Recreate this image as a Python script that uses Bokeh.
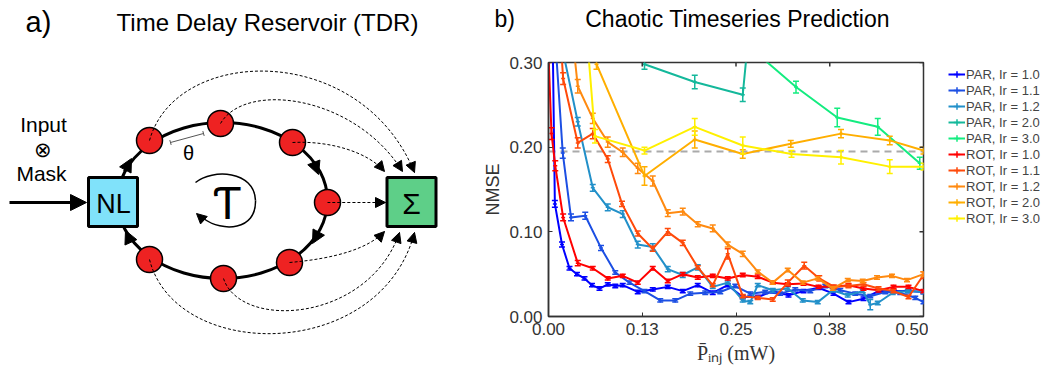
import math
from bokeh.plotting import figure
from bokeh.layouts import row, column
from bokeh.models import (Range1d, Label, Arrow, NormalHead, TeeHead, Span,
                          Legend, LegendItem, FixedTicker, ColumnDataSource)
from bokeh.embed import file_html
from bokeh.resources import INLINE

SANS = "Liberation Sans"
SERIF = "Liberation Serif"
NBSP = "\u00a0"

# ---------------- panel b data ----------------
SERIES_NAMES = ["PAR, Ir = 1.0", "PAR, Ir = 1.1", "PAR, Ir = 1.2", "PAR, Ir = 2.0", "PAR, Ir = 3.0",
                "ROT, Ir = 1.0", "ROT, Ir = 1.1", "ROT, Ir = 1.2", "ROT, Ir = 2.0", "ROT, Ir = 3.0"]
SERIES_COLORS = ["#0000ff", "#1c4fe3", "#2290c9", "#14b89b", "#14ec80",
                 "#ff0000", "#ff4a0a", "#ff8a10", "#ffae00", "#fff000"]

PAR_10_X = [0.000, 0.0085, 0.018, 0.028, 0.038, 0.048, 0.058, 0.068, 0.079, 0.089, 0.099, 0.119, 0.139, 0.159,
            0.179, 0.199, 0.219, 0.239, 0.259, 0.279, 0.299, 0.320, 0.340, 0.360, 0.380, 0.400, 0.420, 0.440,
            0.460, 0.480, 0.500]
PAR_10_Y = [0.700, 0.133, 0.085, 0.057, 0.050, 0.045, 0.037, 0.033, 0.038, 0.036, 0.037, 0.029, 0.032, 0.035,
            0.030, 0.037, 0.028, 0.037, 0.023, 0.023, 0.030, 0.025, 0.030, 0.034, 0.027, 0.017, 0.021, 0.030,
            0.030, 0.030, 0.029]
PAR_10_E = [0.010, 0.004, 0.003, 0.002, 0.002, 0.002, 0.002, 0.002, 0.002, 0.002, 0.002, 0.002, 0.002, 0.002,
            0.002, 0.002, 0.002, 0.002, 0.002, 0.002, 0.002, 0.002, 0.002, 0.002, 0.002, 0.002, 0.002, 0.002,
            0.002, 0.002, 0.002]

PAR_11_X = [0.000, 0.019, 0.030, 0.049, 0.070, 0.089, 0.108, 0.128, 0.149, 0.169, 0.189, 0.209, 0.229, 0.249,
            0.269, 0.289, 0.309, 0.329, 0.349, 0.369, 0.389, 0.409, 0.429, 0.449, 0.469, 0.489, 0.500]
PAR_11_Y = [0.450, 0.193, 0.117, 0.119, 0.081, 0.052, 0.040, 0.030, 0.019, 0.019, 0.027, 0.028, 0.029, 0.036,
            0.027, 0.029, 0.027, 0.032, 0.030, 0.036, 0.031, 0.027, 0.024, 0.029, 0.028, 0.022, 0.017]
PAR_11_E = [0.010, 0.006, 0.004, 0.004, 0.003, 0.002, 0.002, 0.002, 0.002, 0.002, 0.002, 0.002, 0.002, 0.002,
            0.002, 0.002, 0.002, 0.002, 0.002, 0.002, 0.002, 0.002, 0.002, 0.002, 0.002, 0.002, 0.002]

PAR_12_X = [0.000, 0.020, 0.039, 0.059, 0.079, 0.099, 0.119, 0.139, 0.159, 0.179, 0.199, 0.219, 0.239, 0.259,
            0.269, 0.279, 0.299, 0.319, 0.339, 0.359, 0.379, 0.399, 0.419, 0.429, 0.439, 0.459, 0.479, 0.500]
PAR_12_Y = [0.550, 0.310, 0.230, 0.152, 0.129, 0.121, 0.085, 0.082, 0.056, 0.049, 0.058, 0.035, 0.040, 0.019,
            0.017, 0.037, 0.031, 0.033, 0.019, 0.017, 0.031, 0.025, 0.030, 0.014, 0.016, 0.028, 0.030, 0.029]
PAR_12_E = [0.010, 0.006, 0.005, 0.004, 0.004, 0.004, 0.004, 0.004, 0.003, 0.003, 0.003, 0.002, 0.002, 0.002,
            0.002, 0.002, 0.002, 0.002, 0.002, 0.002, 0.002, 0.002, 0.002, 0.006, 0.002, 0.002, 0.002, 0.002]

PAR_20_X = [0.128, 0.195, 0.259, 0.323]
PAR_20_Y = [0.298, 0.277, 0.262, 0.850]
PAR_20_E = [0.006, 0.008, 0.008, 0.010]

PAR_30_X = [0.275, 0.330, 0.385, 0.439, 0.495]
PAR_30_Y = [0.313, 0.271, 0.235, 0.224, 0.181]
PAR_30_E = [0.008, 0.007, 0.011, 0.010, 0.007]

ROT_10_X = [0.000, 0.004, 0.009, 0.0195, 0.039, 0.059, 0.079, 0.099, 0.119, 0.139, 0.159, 0.179, 0.199, 0.219,
            0.239, 0.259, 0.279, 0.299, 0.319, 0.340, 0.360, 0.380, 0.400, 0.420, 0.440, 0.460, 0.480, 0.500]
ROT_10_Y = [0.310, 0.216, 0.178, 0.117, 0.063, 0.057, 0.045, 0.048, 0.040, 0.057, 0.042, 0.050, 0.046, 0.048,
            0.045, 0.049, 0.047, 0.040, 0.038, 0.039, 0.035, 0.035, 0.037, 0.033, 0.031, 0.035, 0.035, 0.030]
ROT_10_E = [0.010, 0.007, 0.006, 0.004, 0.003, 0.002, 0.002, 0.002, 0.002, 0.002, 0.002, 0.002, 0.002, 0.002,
            0.002, 0.002, 0.002, 0.002, 0.002, 0.002, 0.002, 0.002, 0.002, 0.002, 0.002, 0.002, 0.002, 0.002]

ROT_11_X = [0.000, 0.0195, 0.039, 0.059, 0.079, 0.098, 0.119, 0.139, 0.159, 0.179, 0.199, 0.219, 0.239, 0.259,
            0.279, 0.299, 0.319, 0.341, 0.361, 0.381, 0.400, 0.420, 0.440, 0.460, 0.480, 0.500]
ROT_11_Y = [0.550, 0.281, 0.205, 0.216, 0.186, 0.133, 0.098, 0.080, 0.100, 0.087, 0.058, 0.037, 0.074, 0.024,
            0.022, 0.020, 0.040, 0.060, 0.045, 0.035, 0.036, 0.038, 0.033, 0.030, 0.023, 0.049]
ROT_11_E = [0.010, 0.007, 0.006, 0.006, 0.004, 0.003, 0.003, 0.003, 0.004, 0.003, 0.002, 0.002, 0.006, 0.002,
            0.002, 0.002, 0.003, 0.004, 0.003, 0.002, 0.002, 0.002, 0.002, 0.002, 0.002, 0.004]

ROT_12_X = [0.000, 0.039, 0.059, 0.079, 0.099, 0.119, 0.139, 0.159, 0.179, 0.199, 0.219, 0.239, 0.259,
            0.279, 0.299, 0.319, 0.339, 0.359, 0.379, 0.399, 0.419, 0.438, 0.458, 0.478, 0.500]
ROT_12_Y = [0.600, 0.272, 0.234, 0.206, 0.194, 0.175, 0.160, 0.122, 0.124, 0.109, 0.104, 0.085, 0.074,
            0.053, 0.040, 0.055, 0.040, 0.045, 0.033, 0.043, 0.042, 0.046, 0.048, 0.043, 0.050]
ROT_12_E = [0.010, 0.008, 0.006, 0.006, 0.005, 0.006, 0.006, 0.004, 0.004, 0.003, 0.004, 0.003, 0.003,
            0.002, 0.002, 0.002, 0.002, 0.002, 0.002, 0.002, 0.002, 0.002, 0.002, 0.002, 0.003]

ROT_20_X = [0.064, 0.128, 0.195, 0.259, 0.323, 0.390, 0.455, 0.500]
ROT_20_Y = [0.298, 0.166, 0.209, 0.192, 0.204, 0.216, 0.208, 0.196]
ROT_20_E = [0.006, 0.011, 0.010, 0.005, 0.004, 0.005, 0.005, 0.004]

ROT_30_X = [0.000, 0.062, 0.128, 0.195, 0.259, 0.324, 0.390, 0.455, 0.500]
ROT_30_Y = [0.900, 0.213, 0.196, 0.224, 0.202, 0.192, 0.188, 0.177, 0.177]
ROT_30_E = [0.010, 0.008, 0.004, 0.010, 0.010, 0.004, 0.008, 0.008, 0.004]

SERIES_X = [PAR_10_X, PAR_11_X, PAR_12_X, PAR_20_X, PAR_30_X, ROT_10_X, ROT_11_X, ROT_12_X, ROT_20_X, ROT_30_X]
SERIES_Y = [PAR_10_Y, PAR_11_Y, PAR_12_Y, PAR_20_Y, PAR_30_Y, ROT_10_Y, ROT_11_Y, ROT_12_Y, ROT_20_Y, ROT_30_Y]
SERIES_E = [PAR_10_E, PAR_11_E, PAR_12_E, PAR_20_E, PAR_30_E, ROT_10_E, ROT_11_E, ROT_12_E, ROT_20_E, ROT_30_E]

X_MIN, X_MAX = 0.0, 0.5
Y_MIN, Y_MAX = 0.0, 0.3
X_TICKS = [0.0, 0.125, 0.25, 0.375, 0.5]
X_TICK_LABELS = ["0.00", "0.13", "0.25", "0.38", "0.50"]
Y_TICKS = [0.0, 0.1, 0.2, 0.3]
Y_TICK_LABELS = ["0.00", "0.10", "0.20", "0.30"]
NMSE_THRESHOLD = 0.195

# ---------------- panel a (diagram) data, in page pixels ----------------
RING_CX, RING_CY, RING_W, RING_H = 222, 200, 210, 156
NODE_X = [149, 220, 292, 327, 289, 223, 149]
NODE_Y = [140, 123, 142, 202, 262, 278, 259]
NODE_R = 13
READ_END_X = [414, 402, 384, 385, 384, 399, 414]
READ_END_Y = [172, 171, 171, 202, 231, 232, 232]
READ_C1_X = [175, 245, 330, 345, 335, 240, 175]
READ_C1_Y = [45, 80, 140, 202, 258, 330, 362]
READ_C2_X = [360, 355, 368, 365, 368, 368, 380]
READ_C2_Y = [40, 95, 152, 202, 248, 322, 362]
RING_ARROWS = [((124, 171), (131, 158)), ((313, 161), (318, 174)),
               ((318, 232), (312, 243)), ((130, 241), (125, 230))]
NL_BOX = (112.5, 201.5, 49)
SUM_BOX = (411, 201.5, 49)


def lab(fig, x, y, text, size, font=SANS, style="normal", align="center", color="black"):
    fig.add_layout(Label(x=x, y=y, text=text, text_font=font, text_font_size=size,
                         text_font_style=style, text_align=align, text_baseline="middle",
                         text_color=color))


# ======================= left figure (diagram) =======================
a = figure(width=480, height=369, x_range=Range1d(0, 480), y_range=Range1d(369, 0),
           x_axis_type=None, y_axis_type=None, toolbar_location=None, title=None,
           output_backend="svg", min_border=0, min_border_top=0, min_border_bottom=0,
           min_border_left=0, min_border_right=0, outline_line_color=None)

a.ellipse(x=RING_CX, y=RING_CY, width=RING_W, height=RING_H, fill_color=None,
          line_color="black", line_width=3)
for (s, e) in RING_ARROWS:
    a.add_layout(Arrow(x_start=s[0], y_start=s[1], x_end=e[0], y_end=e[1], line_width=3,
                       end=NormalHead(size=13, fill_color="black", line_color="black")))

a.circle(x=NODE_X, y=NODE_Y, radius=NODE_R, fill_color="#ee2222", line_color="black", line_width=1.5)

a.bezier(x0=NODE_X, y0=NODE_Y, x1=READ_END_X, y1=READ_END_Y, cx0=READ_C1_X, cy0=READ_C1_Y,
         cx1=READ_C2_X, cy1=READ_C2_Y, line_color="black", line_width=1, line_dash="3 2")
for i in range(len(NODE_X)):
    ex, ey = READ_END_X[i], READ_END_Y[i]
    dx, dy = ex - READ_C2_X[i], ey - READ_C2_Y[i]
    d = (dx * dx + dy * dy) ** 0.5
    a.add_layout(Arrow(x_start=ex - 6 * dx / d, y_start=ey - 6 * dy / d, x_end=ex, y_end=ey,
                       line_alpha=0, end=NormalHead(size=10, fill_color="black", line_color="black")))

a.rect(x=NL_BOX[0], y=NL_BOX[1], width=NL_BOX[2], height=NL_BOX[2], fill_color="#80e2fa",
       line_color="black", line_width=3)
a.rect(x=SUM_BOX[0], y=SUM_BOX[1], width=SUM_BOX[2], height=SUM_BOX[2], fill_color="#5ecf88",
       line_color="black", line_width=3)

a.add_layout(Arrow(x_start=9, y_start=202, x_end=86, y_end=202, line_width=3,
                   end=NormalHead(size=16, fill_color="black", line_color="black")))

a.add_layout(Arrow(x_start=170, y_start=142, x_end=203, y_end=133, line_width=1, line_color="#555555",
                   start=TeeHead(size=5, line_color="#555555", line_width=1),
                   end=TeeHead(size=5, line_color="#555555", line_width=1)))

a.bezier(x0=[195, 255], y0=[182, 200], x1=[255, 203], y1=[200, 218], cx0=[212, 256], cx1=[254, 222],
         cy0=[168, 230], cy1=[170, 232], line_color="black", line_width=1.5)
a.add_layout(Arrow(x_start=207, y_start=223, x_end=196, y_end=213, line_alpha=0,
                   end=NormalHead(size=10, fill_color="black", line_color="black")))

lab(a, 38, 21, "a)", "29px")
lab(a, 267, 22, "Time Delay Reservoir (TDR)", "24px")
lab(a, 43, 124, "Input", "21px")
lab(a, 42, 149, "⊗", "21px")
lab(a, 41, 173, "Mask", "21px")
lab(a, 113, 203, "NL", "27px")
lab(a, 411, 203, "Σ", "30px")
lab(a, 188, 152, "θ", "20px")
lab(a, 227, 202, "Ƭ", "46px")

# ======================= middle figure (chart) =======================
p = figure(width=448, height=369, x_range=Range1d(X_MIN, X_MAX), y_range=Range1d(Y_MIN, Y_MAX),
           toolbar_location=None, output_backend="svg",
           title="b)" + NBSP * 11 + "Chaotic Timeseries Prediction\n" + NBSP,
           min_border_left=67, min_border_right=5, min_border_top=62, min_border_bottom=53)
p.title.align = "left"
p.title.vertical_align = "top"
p.title.offset = -54
p.title.text_font = SANS
p.title.text_font_size = "23px"
p.title.text_font_style = "normal"
p.title.text_color = "black"
p.title.standoff = 6
p.grid.visible = False
p.outline_line_color = "#333333"
p.outline_line_width = 1.5

p.add_layout(Span(location=NMSE_THRESHOLD, dimension="width", line_color="#aaaaaa",
                  line_width=2, line_dash="7 5", level="underlay"))

bottom_ax = p.below[0]
left_ax = p.left[0]

# ======================= right figure (legend only) =======================
lf = figure(width=121, height=369, x_range=Range1d(0, 1), y_range=Range1d(5, 6),
            x_axis_type=None, y_axis_type=None, toolbar_location=None, title=None,
            output_backend="svg", min_border=0, min_border_top=0, min_border_bottom=0,
            min_border_left=0, min_border_right=0, outline_line_color=None)

items = []
for name, col, xs, ys, es in zip(SERIES_NAMES, SERIES_COLORS, SERIES_X, SERIES_Y, SERIES_E):
    lo = [y - e for y, e in zip(ys, es)]
    hi = [y + e for y, e in zip(ys, es)]
    src = ColumnDataSource(dict(x=xs, y=ys, lo=lo, hi=hi))
    p.line("x", "y", source=src, line_color=col, line_width=2)
    p.segment(x0="x", y0="lo", x1="x", y1="hi", source=src, line_color=col, line_width=1.5)
    p.scatter("x", "lo", source=src, marker="dash", size=6, line_color=col, line_width=1.5)
    p.scatter("x", "hi", source=src, marker="dash", size=6, line_color=col, line_width=1.5)
    p.scatter("x", "y", source=src, marker="cross", size=4, line_color=col, line_width=1.5)
    # legend proxies (their data lies outside this legend panel's range, only the legend shows)
    lr = lf.line("x", "y", source=src, line_color=col, line_width=2)
    cr = lf.scatter("x", "y", source=src, marker="cross", size=4, line_color=col, line_width=1.5)
    items.append(LegendItem(label=name, renderers=[lr, cr]))

# inward ticks on the top and right edges of the box (half of each mark is clipped by the frame)
p.scatter(x=X_TICKS, y=[Y_MAX] * len(X_TICKS), marker="dash", angle=math.pi / 2, size=8,
          line_color="#333333", line_width=1.5)
p.scatter(x=[X_MAX] * len(Y_TICKS), y=Y_TICKS, marker="dash", size=8,
          line_color="#333333", line_width=1.5)

for ax in (bottom_ax, left_ax):
    ax.axis_line_color = "#333333"
    ax.axis_line_width = 1.5
    ax.major_tick_line_color = "#333333"
    ax.major_tick_in = 4
    ax.major_tick_out = 0
    ax.minor_tick_line_color = None
    ax.major_label_text_font = SANS
    ax.major_label_text_font_size = "17px"
    ax.major_label_text_color = "#333333"
    ax.major_label_standoff = 6

bottom_ax.ticker = FixedTicker(ticks=X_TICKS)
bottom_ax.major_label_overrides = dict(zip(X_TICKS, X_TICK_LABELS))
left_ax.ticker = FixedTicker(ticks=Y_TICKS)
left_ax.major_label_overrides = dict(zip(Y_TICKS, Y_TICK_LABELS))
left_ax.axis_label = "NMSE"
left_ax.axis_label_text_font = SANS
left_ax.axis_label_text_font_size = "18px"
left_ax.axis_label_text_font_style = "normal"
left_ax.axis_label_text_color = "#333333"
left_ax.axis_label_standoff = 3
bottom_ax.axis_label = "P\u0304\u1d62\u2099\u2c7c (mW)"
bottom_ax.axis_label_text_font = SERIF
bottom_ax.axis_label_text_font_size = "20px"
bottom_ax.axis_label_text_font_style = "normal"
bottom_ax.axis_label_text_color = "#333333"
bottom_ax.axis_label_standoff = 4

legend = Legend(items=items, location=(16, 139), padding=4, margin=0, spacing=0,
                glyph_width=17, glyph_height=16, label_height=16, label_standoff=1,
                label_text_font=SANS, label_text_font_size="13px",
                border_line_alpha=0, background_fill_alpha=0)
lf.add_layout(legend)

layout = row(column(a), column(p), column(lf))
open("out.html", "w").write(file_html(layout, INLINE))
